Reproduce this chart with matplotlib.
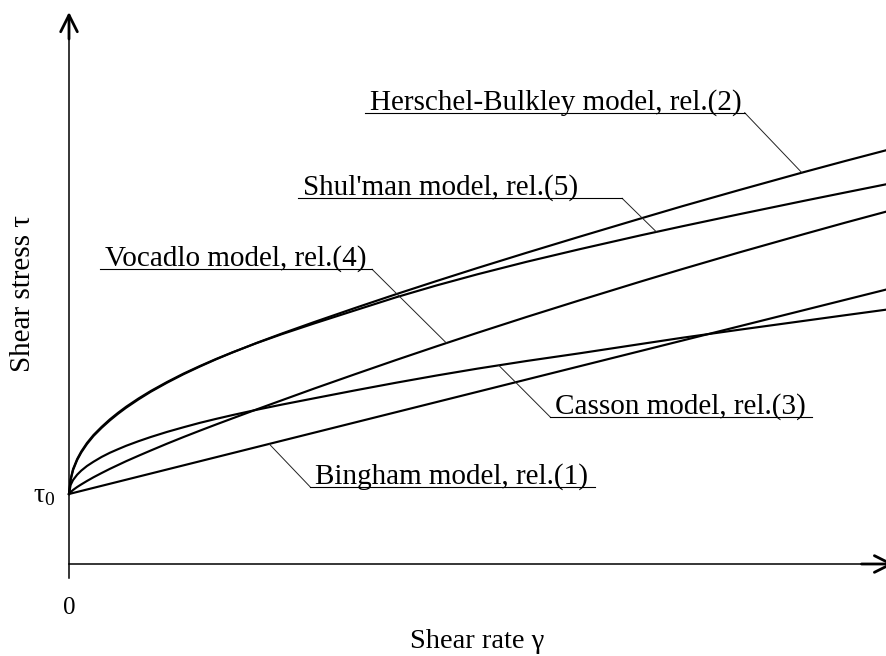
import numpy as np
import matplotlib.pyplot as plt

plt.rcParams['font.family'] = ['Liberation Serif', 'DejaVu Serif']
plt.rcParams['mathtext.fontset'] = 'custom'
plt.rcParams['mathtext.rm'] = 'Liberation Serif'

# shear rate (arbitrary units) and shear stress (in units of tau0)
gamma = [0, 0.02, 0.05, 0.1, 0.15, 0.22, 0.3, 0.4, 0.5, 0.6, 0.7, 0.85, 1.0, 1.2, 1.4, 1.6,
         1.8, 2.0, 2.3, 2.6, 3.0, 3.5, 4.0, 4.5, 5.0, 5.6, 6.25, 7.0, 7.5, 8.2, 9.0, 9.5, 10.0]
tau_hb = [1.000, 1.200, 1.343, 1.486, 1.593, 1.714, 1.829, 1.946, 2.051, 2.146, 2.233,
          2.351, 2.460, 2.590, 2.710, 2.820, 2.924, 3.021, 3.160, 3.290, 3.456, 3.657,
          3.853, 4.043, 4.229, 4.446, 4.676, 4.937, 5.109, 5.341, 5.600, 5.757, 5.910]
tau_shulman = [1.000, 1.214, 1.357, 1.500, 1.607, 1.729, 1.843, 1.960, 2.066, 2.160, 2.247,
               2.364, 2.471, 2.600, 2.719, 2.827, 2.929, 3.024, 3.157, 3.281, 3.436, 3.623,
               3.809, 3.980, 4.139, 4.317, 4.497, 4.696, 4.823, 4.996, 5.189, 5.307, 5.424]
tau_vocadlo = [1.000, 1.027, 1.058, 1.100, 1.137, 1.186, 1.239, 1.300, 1.359, 1.414, 1.469,
               1.546, 1.621, 1.719, 1.813, 1.904, 1.993, 2.080, 2.210, 2.337, 2.506, 2.711,
               2.913, 3.110, 3.303, 3.529, 3.767, 4.036, 4.211, 4.450, 4.714, 4.876, 5.033]
tau_casson = [1.000, 1.129, 1.200, 1.276, 1.334, 1.400, 1.461, 1.530, 1.589, 1.640, 1.689,
              1.754, 1.814, 1.887, 1.953, 2.016, 2.073, 2.127, 2.204, 2.276, 2.367, 2.480,
              2.589, 2.693, 2.791, 2.900, 3.010, 3.143, 3.231, 3.346, 3.474, 3.554, 3.633]
gamma_bingham = [0, 10.0]
tau_bingham = [1.0, 3.92]

names = ["Herschel-Bulkley model, rel.(2)", "Shul'man model, rel.(5)",
         "Vocadlo model, rel.(4)", "Casson model, rel.(3)", "Bingham model, rel.(1)"]

fig = plt.figure(figsize=(8.86, 6.56), dpi=100)
ax = fig.add_axes([69 / 886, 92 / 656, 817 / 886, 552 / 656])
ax.set_xlim(0, 10)
ax.set_ylim(0, 552 / 70)
ax.axis('off')

lw = 1.55
for t in [tau_hb, tau_shulman, tau_vocadlo, tau_casson]:
    ax.plot(gamma, t, color='k', lw=lw, clip_on=False)
ax.plot(gamma_bingham, tau_bingham, color='k', lw=lw, clip_on=False)

# axes with arrows
ax.plot([0, 0], [-0.2, 7.6], color='k', lw=1.1, clip_on=False)
ax.plot([0, 10.05], [0, 0], color='k', lw=1.1, clip_on=False)
head = dict(arrowstyle='->,head_length=0.6,head_width=0.3', lw=2.0, color='k',
            mutation_scale=20, shrinkA=0, shrinkB=0)
ax.annotate('', xy=(0, 7.886), xytext=(0, 7.5), arrowprops=head, annotation_clip=False)
ax.annotate('', xy=(10.1, 0), xytext=(9.7, 0), arrowprops=head, annotation_clip=False)

fs = 21
ax.text(0, -0.63, '0', ha='center', va='center', fontsize=18)
ax.text(-0.17, 0.98, r'$\mathregular{\tau_0}$', ha='right', va='center', fontsize=20)
ax.text(4.99, -1.2, 'Shear rate \u03b3', ha='center', va='baseline', fontsize=20.5)
ax.text(-0.563, 3.87, 'Shear stress \u03c4', ha='center', va='center',
        rotation=90, fontsize=21)

# labels: curve, gamma of leader end, underline x0, x1, underline y, knee side
notes = [
    (names[0], gamma, tau_hb, 8.97, 3.62, 8.27, 6.447, 'right'),
    (names[1], gamma, tau_shulman, 7.19, 2.80, 6.77, 5.224, 'right'),
    (names[2], gamma, tau_vocadlo, 4.62, 0.38, 3.71, 4.210, 'right'),
    (names[3], gamma, tau_casson, 5.26, 5.89, 9.09, 2.100, 'left'),
    (names[4], gamma_bingham, tau_bingham, 2.45, 2.95, 6.44, 1.104, 'left'),
]
for text, gx_curve, curve, gx, x0, x1, uy, side in notes:
    gy = np.interp(gx, gx_curve, curve)
    kx = x1 if side == 'right' else x0
    ax.plot([gx, kx], [gy, uy], color='#222222', lw=0.7, clip_on=False)
    ax.plot([x0, x1], [uy, uy], color='k', lw=0.8, clip_on=False)
    ax.text(x0 + 0.06, uy + 0.05, text, ha='left', va='baseline', fontsize=fs)

fig.savefig('out.png', dpi=100)
